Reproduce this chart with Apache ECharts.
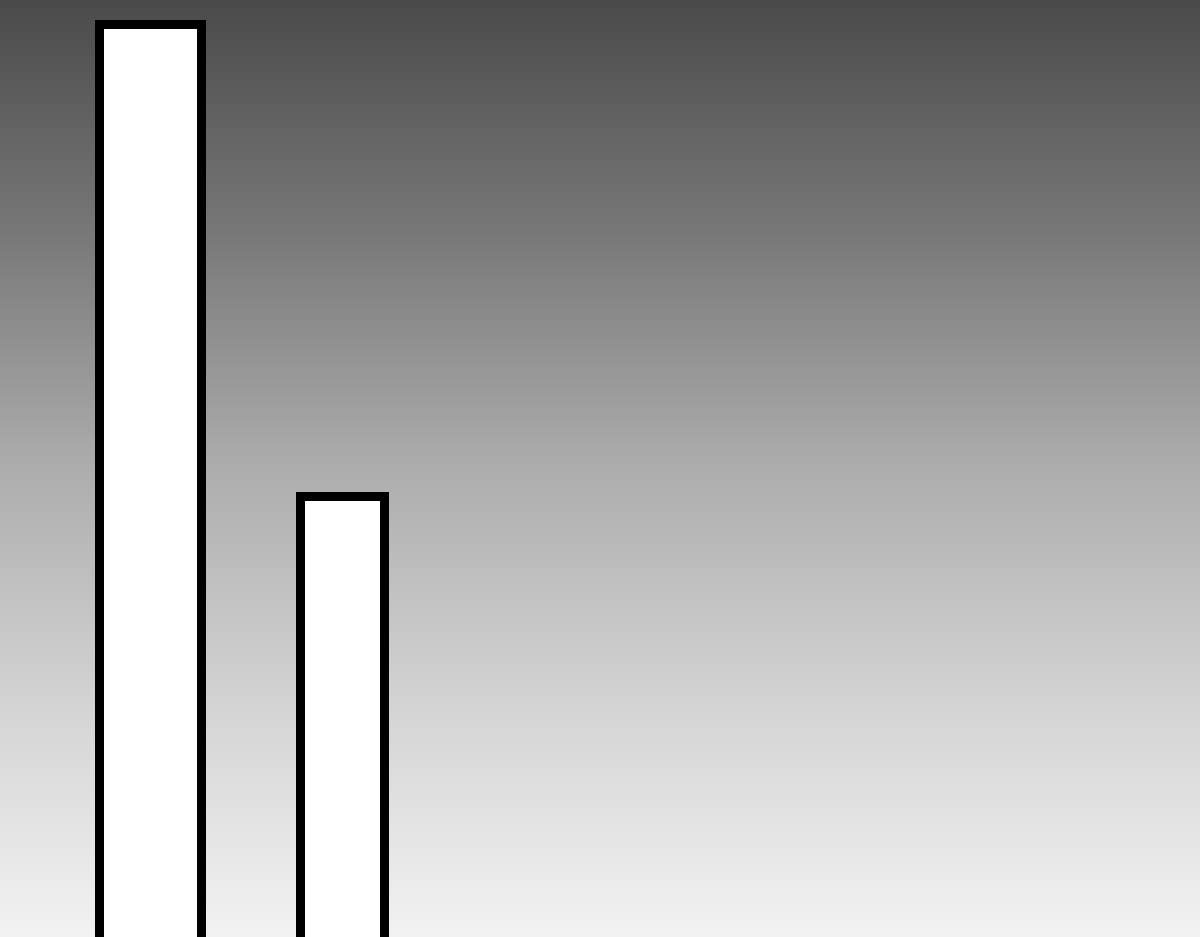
<!DOCTYPE html>
<html>
<head>
<meta charset="utf-8">
<script src="https://cdn.jsdelivr.net/npm/echarts@6/dist/echarts.min.js"></script>
<style>
html,body{margin:0;padding:0;width:1200px;height:937px;overflow:hidden;}
#chart{width:1200px;height:937px;}
</style>
</head>
<body>
<div id="chart"></div>
<script>
const categories = ['A', 'B'];
const seriesA = [98.0, '-'];
const seriesB = ['-', 50.8];

const chart = echarts.init(document.getElementById('chart'), null, {renderer: 'canvas'});
chart.setOption({
  animation: false,
  backgroundColor: {
    type: 'linear', x: 0, y: 0, x2: 0, y2: 1,
    colorStops: [
      {offset: 0, color: '#4a4a4a'},
      {offset: 0.25, color: '#787878'},
      {offset: 0.5, color: '#adadad'},
      {offset: 0.75, color: '#d3d3d3'},
      {offset: 1, color: '#f2f2f2'}
    ]
  },
  grid: {left: 41, width: 402, top: 0, height: 1000, containLabel: false, outerBoundsMode: 'none'},
  xAxis: {type: 'category', data: categories, show: false},
  yAxis: {type: 'value', min: 0, max: 100, show: false, splitLine: {show: false}},
  series: [
    {
      type: 'bar', data: seriesA, barWidth: 111, barGap: '-100%',
      itemStyle: {color: '#ffffff', borderColor: '#000000', borderWidth: 9}
    },
    {
      type: 'bar', data: seriesB, barWidth: 93, barGap: '-100%',
      itemStyle: {color: '#ffffff', borderColor: '#000000', borderWidth: 9}
    }
  ]
});
</script>
</body>
</html>
